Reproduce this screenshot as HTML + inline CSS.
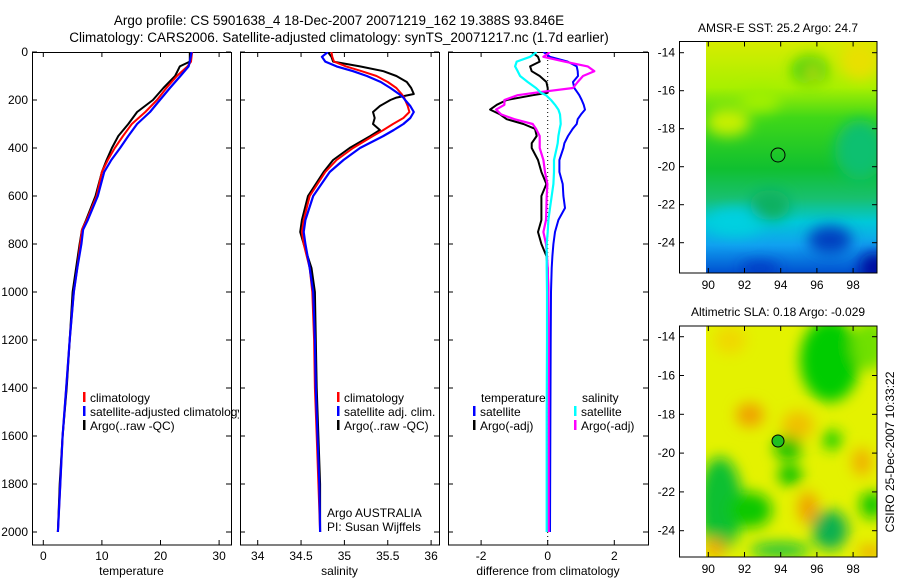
<!DOCTYPE html>
<html><head><meta charset="utf-8">
<style>
html,body{margin:0;padding:0;background:#fff;}
svg{display:block;font-family:"Liberation Sans",sans-serif;}
text{fill:#000;}
</style></head>
<body>
<svg id="fig" width="900" height="580" viewBox="0 0 900 580" xmlns="http://www.w3.org/2000/svg">
<defs>
<clipPath id="c1"><rect x="32" y="52" width="199" height="493"/></clipPath>
<clipPath id="c2"><rect x="240" y="52" width="199" height="493"/></clipPath>
<clipPath id="c3"><rect x="448" y="52" width="200" height="493"/></clipPath>
<clipPath id="leg1"><rect x="32" y="380" width="207" height="60"/></clipPath>
<clipPath id="m1"><rect x="706" y="41" width="171" height="232"/></clipPath>
<clipPath id="m2"><rect x="706" y="326" width="171" height="231"/></clipPath>
<filter id="bl" x="-20%" y="-20%" width="140%" height="140%"><feGaussianBlur stdDeviation="7"/></filter>
<linearGradient id="sstg" x1="0" y1="0" x2="0" y2="1">
<stop offset="0" stop-color="#d8ec00"/><stop offset="0.2" stop-color="#a8f000"/>
<stop offset="0.33" stop-color="#40d818"/><stop offset="0.55" stop-color="#10c030"/>
<stop offset="0.68" stop-color="#18c070"/><stop offset="0.78" stop-color="#00c8d8"/>
<stop offset="0.88" stop-color="#10a0f0"/><stop offset="1" stop-color="#0050d0"/>
</linearGradient>
</defs>
<text x="339" y="25" font-size="13.5" text-anchor="middle">Argo profile: CS 5901638_4 18-Dec-2007 20071219_162 19.388S 93.846E</text>
<text x="339" y="42" font-size="13.5" text-anchor="middle">Climatology: CARS2006. Satellite-adjusted climatology: synTS_20071217.nc (1.7d earlier)</text>
<g id="panels"></g>

<!-- SST map -->
<g>
<text x="778" y="32" font-size="12" text-anchor="middle">AMSR-E SST: 25.2 Argo: 24.7</text>
<g clip-path="url(#m1)">
<rect x="706" y="41" width="171" height="232" fill="url(#sstg)"/>
<g filter="url(#bl)">
<ellipse cx="728" cy="122" rx="22" ry="14" fill="#c8f000"/>
<ellipse cx="760" cy="100" rx="20" ry="12" fill="#a0f000"/>
<ellipse cx="810" cy="70" rx="18" ry="14" fill="#30d010"/>
<ellipse cx="812" cy="72" rx="6" ry="5" fill="#f0e000"/>
<ellipse cx="860" cy="60" rx="20" ry="20" fill="#e8e000"/>
<ellipse cx="860" cy="150" rx="25" ry="30" fill="#10c070"/>
<ellipse cx="735" cy="222" rx="28" ry="14" fill="#00d0e0"/>
<ellipse cx="770" cy="205" rx="20" ry="15" fill="#10b060"/>
<ellipse cx="830" cy="240" rx="22" ry="14" fill="#0040c0"/>
<ellipse cx="875" cy="268" rx="16" ry="16" fill="#0010a0"/>
<ellipse cx="760" cy="268" rx="20" ry="6" fill="#0030c0"/>
</g>
</g>
<rect x="679.5" y="41.5" width="197.5" height="231.5" fill="none" stroke="#000"/>
<circle cx="778" cy="155" r="7" fill="none" stroke="#000"/>
<g id="m1ticks"></g>
</g>

<!-- SLA map -->
<g>
<text x="778" y="316" font-size="12" text-anchor="middle">Altimetric SLA: 0.18 Argo: -0.029</text>
<g clip-path="url(#m2)">
<rect x="706" y="326" width="171" height="231" fill="#e4f200"/>
<g filter="url(#bl)">
<ellipse cx="830" cy="360" rx="30" ry="42" fill="#00cc00"/>
<ellipse cx="870" cy="345" rx="18" ry="25" fill="#70e000"/>
<ellipse cx="720" cy="505" rx="22" ry="48" fill="#10c030"/>
<ellipse cx="750" cy="510" rx="22" ry="18" fill="#10c800"/>
<ellipse cx="788" cy="448" rx="14" ry="12" fill="#10c000"/>
<ellipse cx="790" cy="475" rx="12" ry="10" fill="#00c000"/>
<ellipse cx="832" cy="440" rx="10" ry="10" fill="#20d000"/>
<ellipse cx="872" cy="505" rx="12" ry="14" fill="#10c800"/>
<ellipse cx="830" cy="530" rx="18" ry="20" fill="#10b050"/>
<ellipse cx="780" cy="550" rx="30" ry="7" fill="#10c040"/>
<ellipse cx="750" cy="415" rx="14" ry="12" fill="#f0a000"/>
<ellipse cx="798" cy="425" rx="16" ry="14" fill="#f0c000"/>
<ellipse cx="808" cy="508" rx="10" ry="16" fill="#f0a000"/>
<ellipse cx="862" cy="462" rx="10" ry="14" fill="#f0b000"/>
<ellipse cx="715" cy="548" rx="10" ry="10" fill="#f0a800"/>
<ellipse cx="870" cy="552" rx="12" ry="6" fill="#f0a000"/>
<ellipse cx="730" cy="340" rx="16" ry="14" fill="#f0d800"/>
</g>
</g>
<rect x="679.5" y="326" width="197.5" height="231" fill="none" stroke="#000"/>
<circle cx="778" cy="441" r="6" fill="#20c020" stroke="#000"/>
<g id="m2ticks"></g>
</g>
<text transform="translate(894,452) rotate(-90)" font-size="12" text-anchor="middle">CSIRO 25-Dec-2007 10:33:22</text>

<script>
// ---- Data ----
var tempDepths = [0,40,60,100,150,200,250,300,350,400,450,500,600,700,740,800,900,1000,1200,1400,1600,1800,2000];
var tempClim = [25.4,25.2,24.6,22.8,21.0,19.4,17.4,15.1,13.6,12.2,11.0,10.0,9.1,7.4,6.6,6.3,5.8,5.2,4.5,3.9,3.3,2.9,2.5];
var tempSat  = [25.3,25.0,24.8,23.4,21.6,19.9,18.2,16.0,14.5,13.1,11.6,10.4,9.3,7.6,6.8,6.5,5.8,5.2,4.5,3.9,3.3,2.9,2.5];
var tempArgo = [25.0,25.0,23.3,22.5,20.5,18.7,16.0,14.5,12.8,11.7,10.8,10.0,8.9,7.3,6.6,6.2,5.6,5.0,4.5,4.0,3.3,2.8,2.5];

var salDepths = [0,20,40,60,80,100,125,150,175,190,200,225,250,275,300,325,350,400,450,500,600,700,750,800,900,1000,1200,1400,1600,1800,2000];
var salClim = [34.85,34.86,34.88,35.02,35.2,35.37,35.5,35.6,35.66,35.69,35.70,35.73,35.75,35.68,35.56,35.45,35.33,35.1,34.91,34.78,34.6,34.53,34.51,34.53,34.6,34.63,34.65,34.66,34.68,34.70,34.72];
var salSat  = [34.81,34.74,34.78,34.91,35.1,35.26,35.42,35.53,35.63,35.68,35.7,35.76,35.8,35.76,35.68,35.57,35.45,35.18,34.99,34.83,34.64,34.55,34.53,34.55,34.6,34.64,34.66,34.67,34.69,34.71,34.72];
var salArgo = [34.81,34.85,34.87,35.18,35.45,35.6,35.72,35.77,35.8,35.6,35.53,35.41,35.33,35.35,35.33,35.41,35.3,35.06,34.87,34.76,34.58,34.51,34.49,34.53,34.62,34.66,34.67,34.68,34.70,34.72,34.72];

var diffDepths = [0,20,40,60,80,100,125,150,170,180,200,220,240,260,280,300,320,350,380,400,450,500,550,600,650,700,750,800,850,900,1000,1200,1500,2000];
var dTempSat  = [-0.13,0.07,0.6,0.87,0.9,0.91,0.76,0.8,0.9,0.95,1.02,1.08,1.12,1.0,0.9,0.87,0.75,0.61,0.5,0.47,0.35,0.35,0.45,0.47,0.52,0.32,0.22,0.17,0.14,0.12,0.1,0.09,0.08,0.07];
var dTempArgo = [-0.48,-0.29,-0.24,-0.53,-0.48,-0.24,-0.04,0,0,-0.44,-1.23,-1.53,-1.73,-1.43,-1.23,-0.73,-0.38,-0.33,-0.48,-0.48,-0.29,-0.19,-0.04,-0.19,-0.19,-0.19,-0.29,-0.19,-0.04,0,0.02,0.03,0.03,0.02];
var dSalSat   = [-0.33,-0.53,-0.93,-0.98,-0.9,-0.83,-0.6,-0.35,-0.2,-0.05,0.1,0.22,0.32,0.37,0.38,0.39,0.36,0.32,0.3,0.27,0.19,0.19,0.17,0.12,0.07,0.02,0,-0.03,-0.03,-0.03,-0.02,-0.02,-0.03,-0.03];
var dSalArgo  = [0.07,-0.13,0.5,1.2,1.4,1.06,0.9,0.76,-0.4,-0.9,-1.3,-1.3,-1.55,-1.4,-1.0,-0.45,-0.35,-0.24,-0.24,-0.24,-0.13,-0.08,-0.01,-0.03,-0.04,-0.05,-0.13,-0.05,-0.02,0,0.02,0.03,0.03,0.03];

var depthTicks = [0,200,400,600,800,1000,1200,1400,1600,1800,2000];
var tempTicks = [0,10,20,30];
var salTicks = [34,34.5,35,35.5,36];
var salTickLabels = ["34","34.5","35","35.5","36"];
var diffTicks = [-2,0,2];
var latTicks = [-14,-16,-18,-20,-22,-24];
var lonTicks = [90,92,94,96,98];

// ---- Scales ----
var NS = "http://www.w3.org/2000/svg";
function yD(d){ return 52 + d*0.24; }
function xT(t){ return 43.3 + t*5.86; }
function xS(s){ return 257.7 + (s-34)*86.7; }
function xDf(v){ return 547.7 + v*33.3; }
function mkel(tag, attrs, parent){
  var e = document.createElementNS(NS, tag);
  for (var k in attrs) e.setAttribute(k, attrs[k]);
  parent.appendChild(e); return e;
}
var root = document.getElementById('panels');

function panel(name, x0, x1, xs, ticks, labels, xlabel, showDepthLabels){
  var g = mkel('g', {}, root);
  
  
  var fr = mkel('rect', {x:x0+0.5, y:52.5, width:x1-x0, height:492.5, fill:'none', stroke:'#000'}, g);
  
  
  depthTicks.forEach(function(d){
    var y = yD(d);
    mkel('line', {x1:x0, x2:x0+5, y1:y, y2:y, stroke:'#000'}, g);
    mkel('line', {x1:x1-5, x2:x1, y1:y, y2:y, stroke:'#000'}, g);
    if (showDepthLabels){
      var t = mkel('text', {x:x0-4, y:y+4, 'font-size':12, 'text-anchor':'end'}, g);
      t.textContent = d;
      
      
    }
  });
  ticks.forEach(function(v, i){
    var x = xs(v);
    mkel('line', {x1:x, x2:x, y1:52, y2:57, stroke:'#000'}, g);
    mkel('line', {x1:x, x2:x, y1:540, y2:545, stroke:'#000'}, g);
    var t = mkel('text', {x:x, y:560, 'font-size':12, 'text-anchor':'middle'}, g);
    t.textContent = labels[i];
    
    
  });
  var xl = mkel('text', {x:(x0+x1)/2, y:575, 'font-size':12, 'text-anchor':'middle'}, g);
  xl.textContent = xlabel;
  
  
  return g;
}
function series(g, clip, depths, vals, xs, color, w, nm){
  var pts = depths.map(function(d, i){ return xs(vals[i]).toFixed(1) + ',' + yD(d).toFixed(1); }).join(' ');
  var p = mkel('polyline', {points:pts, fill:'none', stroke:color, 'stroke-width':w, 'clip-path':'url(#' + clip + ')', 'stroke-linejoin':'round'}, g);
  
  
}
function legend(g, x, y, color, label, clip){
  var r = mkel('rect', {x:x, y:y-10, width:2.5, height:10, fill:color}, g);
  var t = mkel('text', {x:x+7, y:y, 'font-size':12}, g);
  if (clip) t.setAttribute('clip-path', 'url(#' + clip + ')');
  t.textContent = label;
  
  
}

// Temperature panel
var g1 = panel('temperature-panel', 32, 231, xT, tempTicks, tempTicks.map(String), 'temperature', true);
series(g1, 'c1', tempDepths, tempArgo, xT, '#000', 2, 'temp-argo-line');
series(g1, 'c1', tempDepths, tempClim, xT, '#ff0000', 2, 'temp-climatology-line');
series(g1, 'c1', tempDepths, tempSat, xT, '#0000ff', 2.2, 'temp-satellite-line');
legend(g1, 83, 402, '#ff0000', 'climatology');
legend(g1, 83, 416, '#0000ff', 'satellite-adjusted climatology', 'leg1');
legend(g1, 83, 430, '#000', 'Argo(..raw -QC)');

// Salinity panel
var g2 = panel('salinity-panel', 240, 439, xS, salTicks, salTickLabels, 'salinity', false);
series(g2, 'c2', salDepths, salArgo, xS, '#000', 2, 'sal-argo-line');
series(g2, 'c2', salDepths, salClim, xS, '#ff0000', 2, 'sal-climatology-line');
series(g2, 'c2', salDepths, salSat, xS, '#0000ff', 2.2, 'sal-satellite-line');
legend(g2, 337, 402, '#ff0000', 'climatology');
legend(g2, 337, 416, '#0000ff', 'satellite adj. clim.');
legend(g2, 337, 430, '#000', 'Argo(..raw -QC)');
var a1 = mkel('text', {x:327, y:517, 'font-size':12}, g2);
a1.textContent = 'Argo AUSTRALIA';


var a2 = mkel('text', {x:327, y:531, 'font-size':12}, g2);
a2.textContent = 'PI: Susan Wijffels';



// Difference panel
var g3 = panel('difference-panel', 448, 648, xDf, diffTicks, diffTicks.map(String), 'difference from climatology', false);
var zl = mkel('line', {x1:xDf(0), x2:xDf(0), y1:52, y2:545, stroke:'#000', 'stroke-dasharray':'1,3'}, g3);


series(g3, 'c3', diffDepths, dTempArgo, xDf, '#000', 2, 'diff-temp-argo-line');
series(g3, 'c3', diffDepths, dTempSat, xDf, '#0000ff', 2, 'diff-temp-satellite-line');
series(g3, 'c3', diffDepths, dSalArgo, xDf, '#ff00ff', 2.2, 'diff-sal-argo-line');
series(g3, 'c3', diffDepths, dSalSat, xDf, '#00ffff', 2.2, 'diff-sal-satellite-line');
var lt = mkel('text', {x:481, y:402, 'font-size':12}, g3); lt.textContent = 'temperature';


var ls = mkel('text', {x:582, y:402, 'font-size':12}, g3); ls.textContent = 'salinity';


legend(g3, 473, 416, '#0000ff', 'satellite');
legend(g3, 473, 430, '#000', 'Argo(-adj)');
legend(g3, 574, 416, '#00ffff', 'satellite');
legend(g3, 574, 430, '#ff00ff', 'Argo(-adj)');

// Map ticks
function mapTicks(id, top, bottom, latY0, latStep, labY){
  var g = document.getElementById(id);
  latTicks.forEach(function(l){
    var y = latY0 + (-14 - l) * latStep;
    mkel('line', {x1:679, x2:684, y1:y, y2:y, stroke:'#000'}, g);
    mkel('line', {x1:872, x2:877, y1:y, y2:y, stroke:'#000'}, g);
    var t = mkel('text', {x:675, y:y+4, 'font-size':12, 'text-anchor':'end'}, g);
    t.textContent = l;
    
    
  });
  lonTicks.forEach(function(l){
    var x = 708.3 + (l - 90) * 18.1;
    mkel('line', {x1:x, x2:x, y1:top, y2:top+5, stroke:'#000'}, g);
    mkel('line', {x1:x, x2:x, y1:bottom-5, y2:bottom, stroke:'#000'}, g);
    var t = mkel('text', {x:x, y:labY, 'font-size':12, 'text-anchor':'middle'}, g);
    t.textContent = l;
    
    
  });
}
mapTicks('m1ticks', 41.5, 273, 52.7, 19.0, 289);
mapTicks('m2ticks', 326, 557, 336.7, 19.4, 573);
</script>
</svg>
</body></html>
